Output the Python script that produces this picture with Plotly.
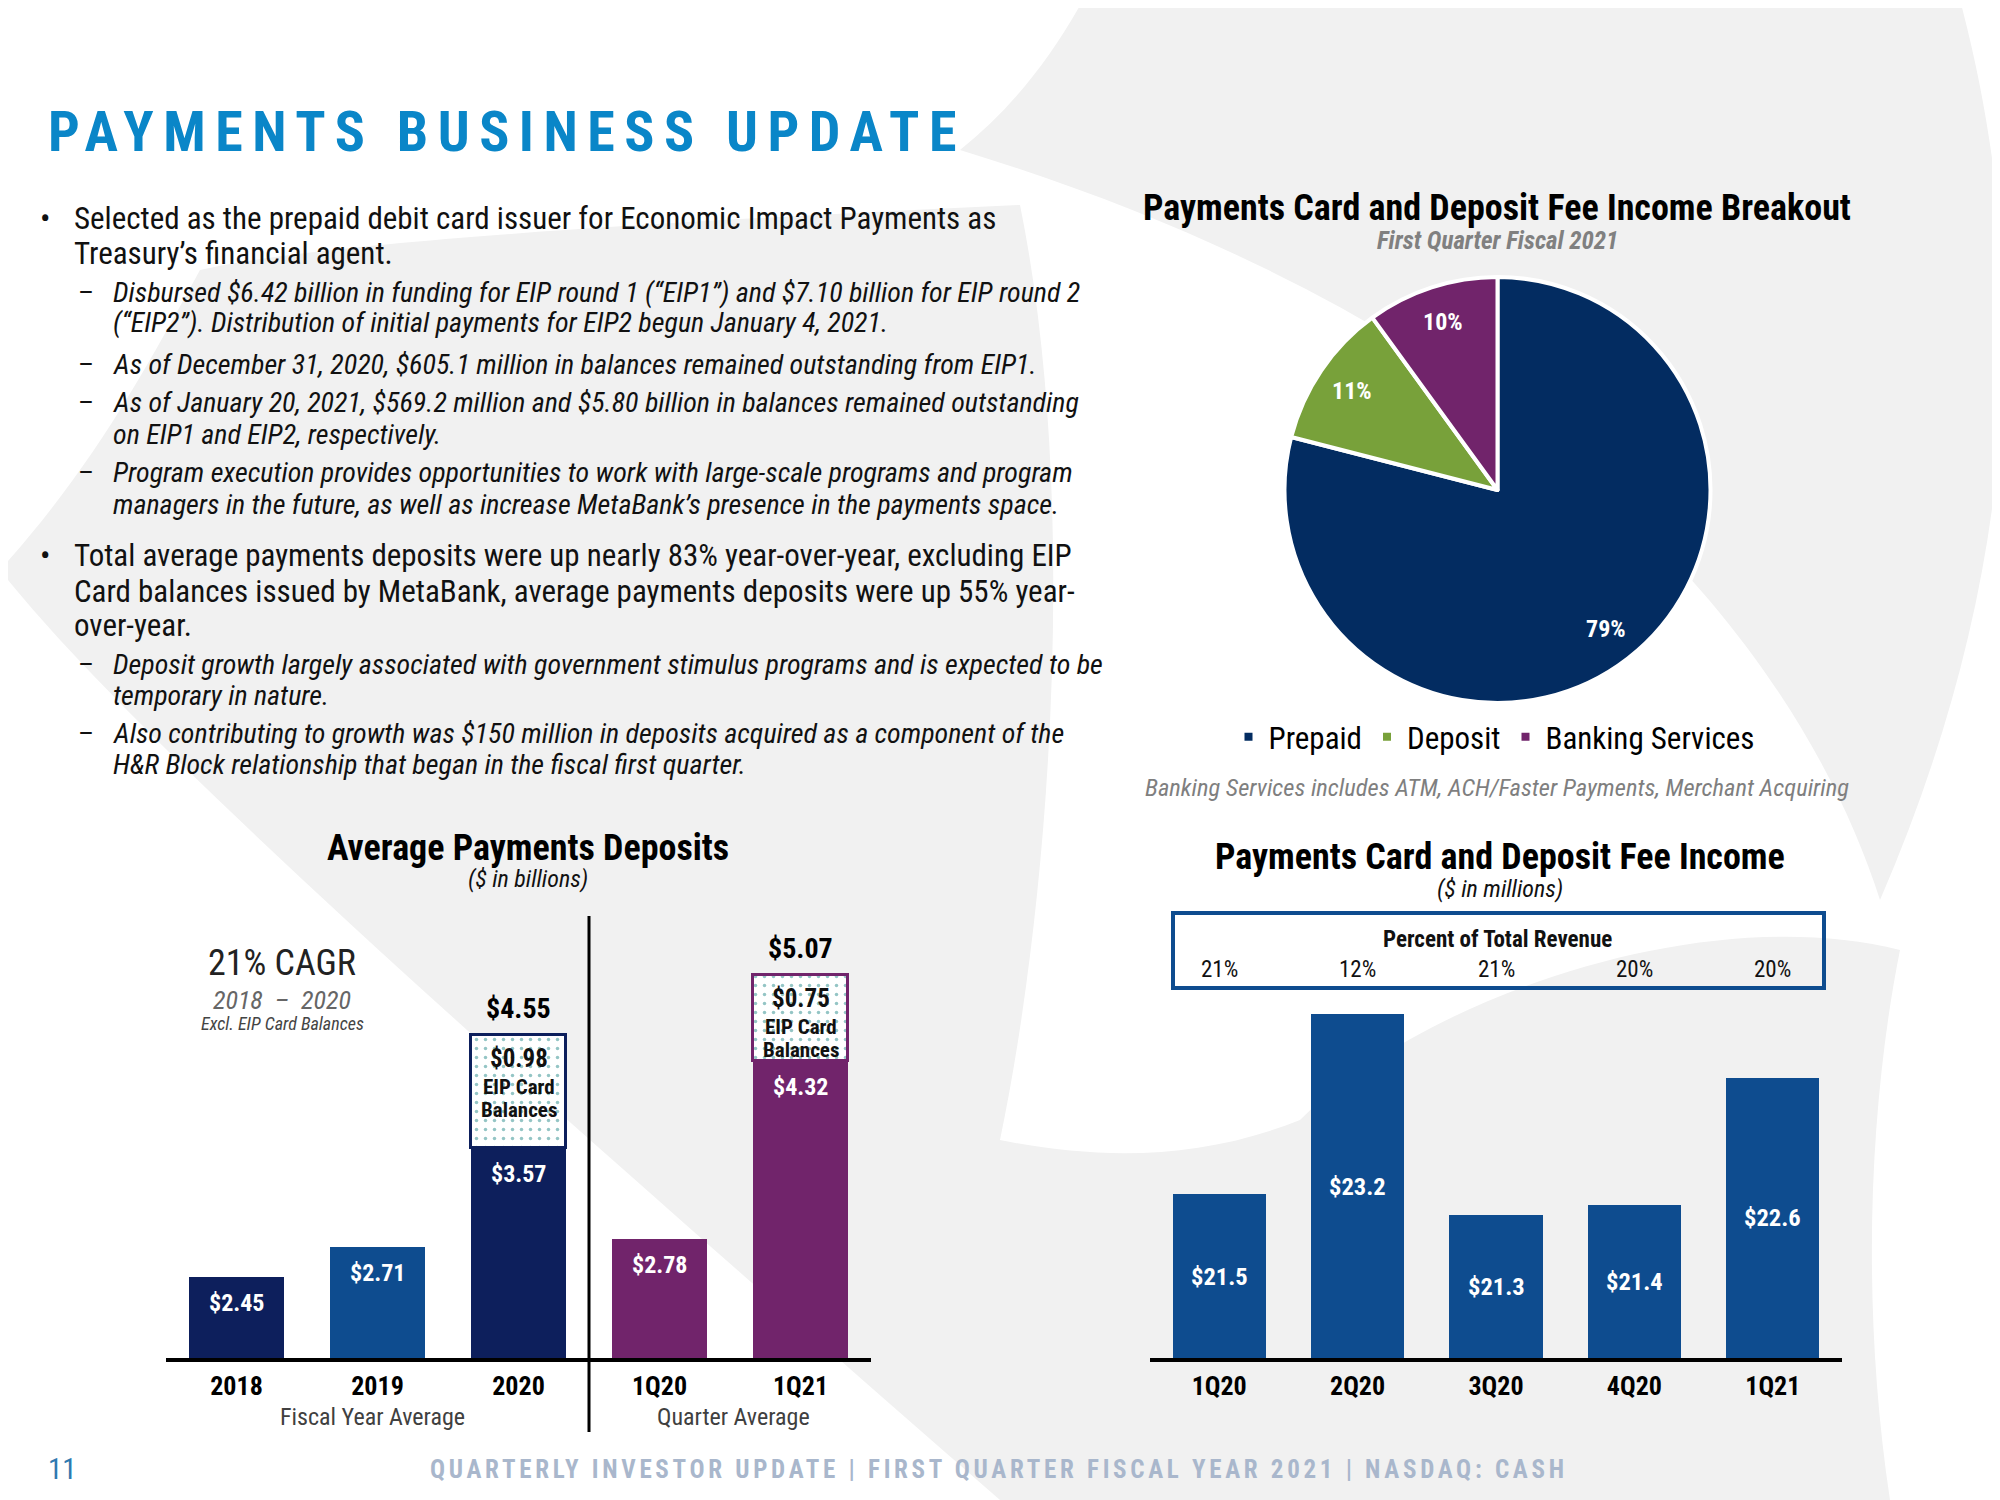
import re
import math
import plotly.graph_objects as go

W, H = 2000, 1500
OFF = 8  # page body margin

# ---------------- data ----------------
dep_categories = ['2018', '2019', '2020', '1Q20', '1Q21']
dep_excl_eip = [2.45, 2.71, 3.57, 2.78, 4.32]
dep_eip = [None, None, 0.98, None, 0.75]
dep_group_labels = ['Fiscal Year Average', 'Quarter Average']

fee_quarters = ['1Q20', '2Q20', '3Q20', '4Q20', '1Q21']
fee_income = [21.5, 23.2, 21.3, 21.4, 22.6]
pct_total_revenue = ['21%', '12%', '21%', '20%', '20%']

mix_labels = ['Prepaid', 'Deposit', 'Banking Services']
mix_share = [79, 11, 10]

# ---------------- styles ----------------
NARROW = "Liberation Sans Narrow, Arial Narrow, Roboto Condensed, Roboto, sans-serif"
NAVY = '#0D1F5C'
BLUE = '#0E4C8F'
PURPLE = '#71246B'
GREEN = '#78A13A'
PIE_NAVY = '#032C61'
TITLE_BLUE = '#0A86C8'
BG_GRAY = '#F1F1F1'
dep_colors = [NAVY, BLUE, NAVY, PURPLE, PURPLE]
dep_edge = [NAVY, BLUE, NAVY, PURPLE, PURPLE]


def X(px):
    return (px - OFF) / W


def Y(py):
    return 1 - (py - OFF) / H


L_XDOM = [X(166), X(871)]
R_XDOM = [X(1150), X(1842)]
Y_DOM = [Y(1358), Y(900)]
DEP_RANGE = [1.75, 1.75 + 458 / 115.4]
FEE_RANGE = [19.95, 19.95 + 458 / 105.7]

PIE_C = (1497.5, 490.0)
PIE_R = 210.0


def px_path(s):
    def rep(m):
        x = float(m.group(1)); y = float(m.group(2))
        return f"{X(x):.5f},{Y(y):.5f}"
    return re.sub(r'(-?\d+\.?\d*),(-?\d+\.?\d*)', rep, s)


def ann(text, x, y, size, color='#111111', weight='normal', style='normal',
        xanchor='left', yanchor='middle', family=NARROW):
    return dict(text=text, x=X(x), y=Y(y), xref='paper', yref='paper',
                xanchor=xanchor, yanchor=yanchor, showarrow=False,
                font=dict(size=size, color=color, family=family, weight=weight, style=style))


fig = go.Figure()

# ---------- Average payments deposits (stacked) ----------
fig.add_trace(go.Bar(
    x=dep_categories, y=dep_excl_eip, xaxis='x', yaxis='y', width=0.667,
    marker=dict(color=dep_colors, line=dict(width=0)), showlegend=False, hoverinfo='skip'))
fig.add_trace(go.Bar(
    x=dep_categories, y=dep_eip, xaxis='x', yaxis='y', width=0.667,
    marker=dict(color='white', line=dict(color=dep_edge, width=3),
                pattern=dict(shape='.', fgcolor='#2A8C8C', bgcolor='white', size=9, solidity=0.12)),
    showlegend=False, hoverinfo='skip'))

# ---------- Fee income bars ----------
fig.add_trace(go.Bar(
    x=fee_quarters, y=fee_income, xaxis='x2', yaxis='y2', width=0.674,
    marker=dict(color=BLUE, line=dict(width=0)), showlegend=False, hoverinfo='skip'))

# ---------- Pie ----------
pie_half = PIE_R + 3
fig.add_trace(go.Pie(
    labels=mix_labels, values=mix_share, sort=False, direction='clockwise', rotation=0,
    marker=dict(colors=[PIE_NAVY, GREEN, PURPLE], line=dict(color='white', width=4)),
    textinfo='none',
    domain=dict(x=[X(PIE_C[0] - pie_half), X(PIE_C[0] + pie_half)],
                y=[Y(PIE_C[1] + pie_half), Y(PIE_C[1] - pie_half)]),
    hoverinfo='skip', showlegend=True))

annotations = []

# pie percentage labels at the middle angle of each slice
total_share = sum(mix_share)
cum = 0.0
for v in mix_share:
    mid = (cum + v / 2) / total_share * 2 * math.pi
    cum += v
    lx = PIE_C[0] + 0.84 * PIE_R * math.sin(mid)
    ly = PIE_C[1] - 0.84 * PIE_R * math.cos(mid)
    annotations.append(ann(f'{round(v / total_share * 100)}%', lx, ly, 24, color='white',
                           weight='bold', xanchor='center'))

# ---------- headline ----------
annotations.append(ann('<span style="letter-spacing:9.5px">PAYMENTS BUSINESS UPDATE</span>',
                       46, 132, 56, color=TITLE_BLUE, weight='bold'))

# ---------- bullet text ----------
MAIN, SUB = 31, 28
bullets = [
    ('main', 218, 'Selected as the prepaid debit card issuer for Economic Impact Payments as'),
    (None, 253, 'Treasury’s financial agent.'),
    ('sub', 292, 'Disbursed $6.42 billion in funding for EIP round 1 (“EIP1”) and $7.10 billion for EIP round 2'),
    (None, 323, '(“EIP2”). Distribution of initial payments for EIP2 begun January 4, 2021.'),
    ('sub', 364, 'As of December 31, 2020, $605.1 million in balances remained outstanding from EIP1.'),
    ('sub', 403, 'As of January 20, 2021, $569.2 million and $5.80 billion in balances remained outstanding'),
    (None, 434, 'on EIP1 and EIP2, respectively.'),
    ('sub', 472, 'Program execution provides opportunities to work with large-scale programs and program'),
    (None, 504, 'managers in the future, as well as increase MetaBank’s presence in the payments space.'),
    ('main', 555, 'Total average payments deposits were up nearly 83% year-over-year, excluding EIP'),
    (None, 591, 'Card balances issued by MetaBank, average payments deposits were up 55% year-'),
    (None, 625, 'over-year.'),
    ('sub', 665, 'Deposit growth largely associated with government stimulus programs and is expected to be'),
    (None, 695, 'temporary in nature.'),
    ('sub', 733, 'Also contributing to growth was $150 million in deposits acquired as a component of the'),
    (None, 764, 'H&amp;R Block relationship that began in the fiscal first quarter.'),
]
level = 'main'
for kind, y, txt in bullets:
    if kind is not None:
        level = kind
    if level == 'main':
        if kind == 'main':
            annotations.append(ann('•', 38, y, MAIN))
        annotations.append(ann(txt, 72, y, MAIN))
    else:
        if kind == 'sub':
            annotations.append(ann('–', 76, y, SUB))
        annotations.append(ann(txt, 111, y, SUB, style='italic'))

# ---------- pie titles ----------
annotations.append(ann('Payments Card and Deposit Fee Income Breakout', 1497, 208, 36,
                       weight='bold', xanchor='center', color='#000000'))
annotations.append(ann('First Quarter Fiscal 2021', 1497, 241, 25, color='#808080',
                       style='italic', weight='bold', xanchor='center'))
annotations.append(ann('Banking Services includes ATM, ACH/Faster Payments, Merchant Acquiring',
                       1497, 787, 24.5, color='#7F7F7F', style='italic', xanchor='center'))

# ---------- left chart texts ----------
annotations.append(ann('Average Payments Deposits', 528, 848, 36, weight='bold',
                       xanchor='center', color='#000000'))
annotations.append(ann('($ in billions)', 528, 879, 24, style='italic', xanchor='center'))
annotations.append(ann('21% CAGR', 282, 963, 36, xanchor='center', color='#222222'))
annotations.append(ann('2018  –  2020', 282, 1000, 26, color='#666666', style='italic', xanchor='center'))
annotations.append(ann('Excl. EIP Card Balances', 282, 1023, 18, color='#444444', style='italic',
                       xanchor='center'))
annotations.append(ann(dep_group_labels[0], 372, 1417, 24, color='#404040', xanchor='center'))
annotations.append(ann(dep_group_labels[1], 733, 1417, 24, color='#404040', xanchor='center'))

for i, v in enumerate(dep_excl_eip):
    annotations.append(dict(text=f'${v:.2f}', x=i, y=v, xref='x', yref='y', showarrow=False,
                            yshift=-26, yanchor='middle',
                            font=dict(size=24, color='white', family=NARROW, weight='bold')))
for i, (base, e) in enumerate(zip(dep_excl_eip, dep_eip)):
    if e is None:
        continue
    total = base + e
    annotations.append(dict(text=f'${total:.2f}', x=i, y=total, xref='x', yref='y',
                            showarrow=False, yshift=26, yanchor='middle',
                            font=dict(size=28, color='#000000', family=NARROW, weight='bold')))
    for txt, shift, size in [(f'${e:.2f}', -24, 25), ('EIP Card', -52, 21), ('Balances', -75, 21)]:
        annotations.append(dict(text=txt, x=i, y=total, xref='x', yref='y', showarrow=False,
                                yshift=shift, yanchor='middle',
                                font=dict(size=size, color='#111111', family=NARROW, weight='bold')))

# ---------- right chart texts ----------
annotations.append(ann('Payments Card and Deposit Fee Income', 1500, 857, 36, weight='bold',
                       xanchor='center', color='#000000'))
annotations.append(ann('($ in millions)', 1500, 889, 24, style='italic', xanchor='center'))
annotations.append(ann('Percent of Total Revenue', 1497, 939, 23, xanchor='center', weight='bold'))
for i, p in enumerate(pct_total_revenue):
    annotations.append(dict(text=p, x=i, y=Y(969), xref='x2', yref='paper', showarrow=False,
                            yanchor='middle', font=dict(size=23, color='#111111', family=NARROW)))
for i, v in enumerate(fee_income):
    annotations.append(dict(text=f'${v:.1f}', x=i, y=(v + FEE_RANGE[0]) / 2, xref='x2', yref='y2',
                            showarrow=False, yanchor='middle',
                            font=dict(size=24.5, color='white', family=NARROW, weight='bold')))

# ---------- footer ----------
annotations.append(ann('11', 46, 1469, 29, color='#2E79B0'))
annotations.append(ann('<span style="letter-spacing:3.7px">QUARTERLY INVESTOR UPDATE | FIRST QUARTER FISCAL YEAR 2021 | NASDAQ: CASH</span>',
                       999, 1469, 25, color='#A9B7CC', weight='bold', xanchor='center'))

# ---------- shapes ----------
shapes = []
bg_paths = [
    "M1083,0 L1960,0 C2040,300 2010,600 1880,900 C1800,650 1550,330 960,150 C1010,110 1050,60 1083,0 Z",
    "M1020,205 C700,220 330,240 200,270 C140,380 90,470 0,570 C150,760 600,1150 1000,1500 "
    "L1890,1500 C1860,1300 1870,1100 1900,950 C1700,900 1420,1000 1300,1120 "
    "C1200,1160 1100,1160 1000,1140 C1050,900 1080,500 1020,205 Z",
]
for p in bg_paths:
    shapes.append(dict(type='path', path=px_path(p), xref='paper', yref='paper',
                       fillcolor=BG_GRAY, line=dict(width=0), layer='below'))

# divider between fiscal-year and quarter bars (x = 2.5 in category units)
div_x = L_XDOM[0] + (2.5 + 0.5) / 5 * (L_XDOM[1] - L_XDOM[0])
shapes.append(dict(type='line', xref='paper', yref='paper', x0=div_x, x1=div_x,
                   y0=Y(1432), y1=Y(916), line=dict(color='#000000', width=3)))
# percent of revenue box
shapes.append(dict(type='rect', xref='paper', yref='paper', x0=X(1173), x1=X(1824),
                   y0=Y(988), y1=Y(913), line=dict(color=BLUE, width=4)))

tick_font = dict(size=26, family=NARROW, color='#000000', weight='bold')
fig.update_layout(
    width=W, height=H, margin=dict(l=0, r=0, t=0, b=0),
    paper_bgcolor='white', plot_bgcolor='rgba(0,0,0,0)',
    barmode='stack', bargap=0,
    xaxis=dict(domain=L_XDOM, anchor='y', type='category', range=[-0.5, 4.5],
               showline=True, linecolor='#000000', linewidth=4, showgrid=False, zeroline=False,
               ticks='', tickfont=tick_font, ticklabelstandoff=2, fixedrange=True),
    yaxis=dict(domain=Y_DOM, anchor='x', range=DEP_RANGE, visible=False, fixedrange=True),
    xaxis2=dict(domain=R_XDOM, anchor='y2', type='category', range=[-0.5, 4.5],
                showline=True, linecolor='#000000', linewidth=4, showgrid=False, zeroline=False,
                ticks='', tickfont=tick_font, ticklabelstandoff=2, fixedrange=True),
    yaxis2=dict(domain=Y_DOM, anchor='x2', range=FEE_RANGE, visible=False, fixedrange=True),
    legend=dict(orientation='h', x=X(1494), xanchor='center', y=Y(737), yanchor='middle',
                font=dict(size=31, family=NARROW, color='#000000'), bgcolor='rgba(0,0,0,0)',
                itemwidth=30, traceorder='normal'),
    annotations=annotations, shapes=shapes,
)

fig.write_html("out.html")
